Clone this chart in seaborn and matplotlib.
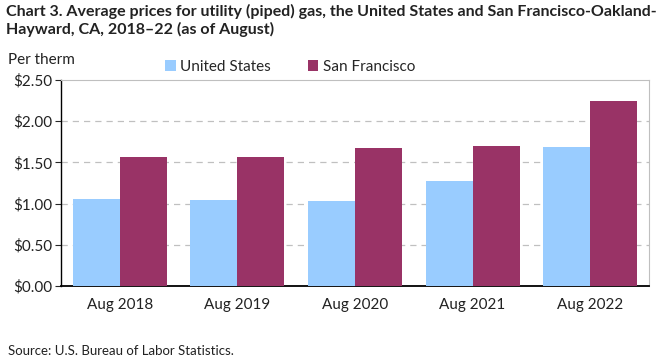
import pandas as pd
import matplotlib.pyplot as plt
import seaborn as sns

# Dados do gráfico (preço médio por therm, agosto de cada ano)
periodos = ['Aug 2018', 'Aug 2019', 'Aug 2020', 'Aug 2021', 'Aug 2022']
series = ['United States', 'San Francisco']
precos_eua = [1.05, 1.04, 1.03, 1.27, 1.69]
precos_sf = [1.57, 1.57, 1.68, 1.70, 2.24]
ticks_y = [0.0, 0.5, 1.0, 1.5, 2.0, 2.5]

cores = {'United States': '#99CCFF', 'San Francisco': '#993366'}

df = pd.DataFrame({
    'periodo': periodos * 2,
    'serie': [series[0]] * len(periodos) + [series[1]] * len(periodos),
    'preco': precos_eua + precos_sf,
})

sns.set_style('white')
plt.rcParams['font.family'] = ['Lato', 'DejaVu Sans']

fig = plt.figure(figsize=(6.61, 3.61), dpi=100)
ax = fig.add_axes([61 / 661, 1 - 286 / 361, 588 / 661, 206 / 361])

sns.barplot(data=df, x='periodo', y='preco', hue='serie', palette=cores,
            width=0.8, saturation=1, ax=ax, legend=True, zorder=3,
            linewidth=0, edgecolor='none')

ax.set_ylim(0, 2.5)
ax.set_yticks(ticks_y)
ax.set_yticklabels([f'${v:.2f}' for v in ticks_y], fontsize=11, color='#222222')
ax.tick_params(axis='x', labelsize=11, colors='#222222', length=0, pad=9)
ax.tick_params(axis='y', length=4, width=0.8, direction='out', left=True, pad=2)
ax.set_xlabel('')
ax.set_ylabel('')

for v in ticks_y[1:-1]:
    ax.axhline(v, color='#c0c0c0', linestyle=(0, (5, 4)), linewidth=0.9, zorder=1)

ax.spines['left'].set_color('black')
ax.spines['bottom'].set_color('black')
ax.spines['bottom'].set_linewidth(1.3)
ax.spines['left'].set_linewidth(1.0)
ax.spines['top'].set_color('#bfbfbf')
ax.spines['right'].set_color('#bfbfbf')

ax.legend(loc='lower left', bbox_to_anchor=(165 / 661, 1 - 74 / 361),
          bbox_transform=fig.transFigure, ncol=2, frameon=False, fontsize=11,
          handlelength=0.7, handleheight=0.7, handletextpad=0.3,
          columnspacing=2.4, borderaxespad=0, borderpad=0)

fig.text(6 / 661, 1 - 4 / 361,
         'Chart 3. Average prices for utility (piped) gas, the United States and San Francisco-Oakland-\n'
         'Hayward, CA, 2018\u201322 (as of August)',
         fontsize=11.5, fontweight='bold', va='top', ha='left', color='#222222', linespacing=1.25)
fig.text(8 / 661, 1 - 60 / 361, 'Per therm', fontsize=11, va='center', ha='left', color='#222222')
fig.text(8 / 661, 1 - 351 / 361, 'Source: U.S. Bureau of Labor Statistics.', fontsize=9.5,
         va='center', ha='left', color='#222222')

fig.savefig('out.png', dpi=100)
